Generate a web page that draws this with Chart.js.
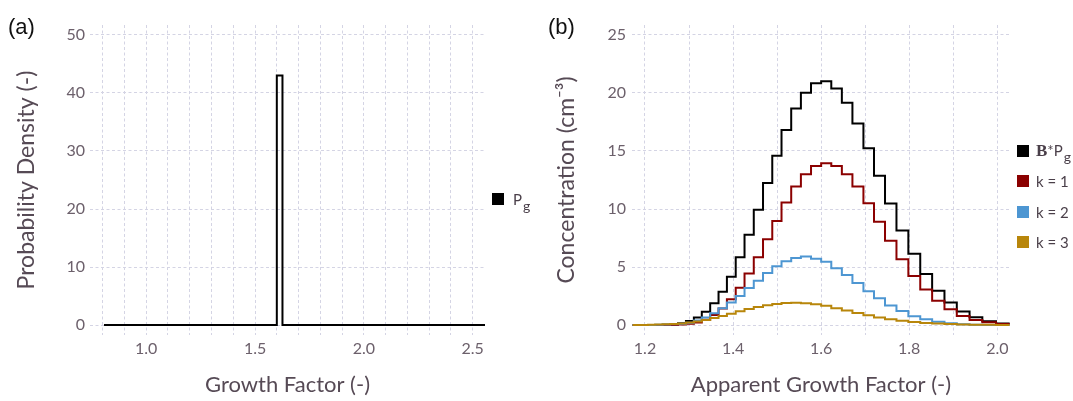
<!DOCTYPE html>
<html lang="en">
<head>
<meta charset="UTF-8">
<title>Growth factor distributions</title>
<script src="https://cdn.jsdelivr.net/npm/chart.js@4"></script>
<style>
  body { margin: 0; background: #fff; font-family: Lato, sans-serif; }
  .figure { position: relative; width: 1073px; height: 401px; overflow: hidden; }
  .panel { position: absolute; top: 0; height: 401px; }
  .tag { position: absolute; top: 15px; font-family: 'Liberation Sans', Arial, sans-serif; font-size: 22px; line-height: 24px; color: #111; }
  .legend { position: absolute; font-size: 15px; color: #4a3f49; }
  .legend .row { display: flex; align-items: center; height: 30.3px; white-space: nowrap; }
  .legend .swatch { width: 12px; height: 12px; flex: none; }
  .legend sub { font-size: 14px; position: relative; top: 6px; vertical-align: baseline; line-height: 0; margin-left: 1px; }
  .legend b { font-family: 'Liberation Serif', 'DejaVu Serif', serif; font-size: 17px; }
</style>
</head>
<body>
<div class="figure">
  <div class="panel" style="left:0;width:540px"><canvas id="chartA"></canvas></div>
  <div class="panel" style="left:540px;width:533px"><canvas id="chartB"></canvas></div>

  <div class="tag" style="left:8px">(a)</div>
  <div class="tag" style="left:548px">(b)</div>

  <div class="legend" style="left:492px;top:183.85px">
    <div class="row"><span class="swatch" style="background:#000;margin-right:9px"></span><span>P<sub>g</sub></span></div>
  </div>
  <div class="legend" style="left:1017px;top:135.85px">
    <div class="row"><span class="swatch" style="background:#000;margin-right:7px"></span><span><b>B</b>*P<sub>g</sub></span></div>
    <div class="row"><span class="swatch" style="background:#8b0000;margin-right:7px"></span><span>k = 1</span></div>
    <div class="row"><span class="swatch" style="background:#4d96d2;margin-right:7px"></span><span>k = 2</span></div>
    <div class="row"><span class="swatch" style="background:#b8860b;margin-right:7px"></span><span>k = 3</span></div>
  </div>
</div>

<script>
// (a) growth factor probability density: one narrow bin
const growthA = [0.806, 1.600, 1.626, 2.557];
const densityA = [0, 43, 0, 0];
const gridXA = [0.8, 0.9, 1.0, 1.1, 1.2, 1.3, 1.4, 1.5, 1.6, 1.7, 1.8, 1.9, 2.0, 2.1, 2.2, 2.3, 2.4, 2.5];
const labelXA = [1.0, 1.5, 2.0, 2.5];
const gridYA = [0, 10, 20, 30, 40, 50];

// (b) concentration per apparent growth factor bin (left bin edges)
const growthB = [1.172, 1.190, 1.207, 1.223, 1.240, 1.257, 1.275, 1.293, 1.311, 1.329,
                 1.348, 1.367, 1.386, 1.406, 1.426, 1.447, 1.468, 1.489, 1.510, 1.532,
                 1.554, 1.577, 1.600, 1.623, 1.647, 1.671, 1.696, 1.720, 1.745, 1.771,
                 1.798, 1.825, 1.852, 1.880, 1.908, 1.937, 1.966, 1.997, 2.028];
const totalB = [0, 0, 0, 0, 0.02, 0.06, 0.16, 0.35, 0.65, 1.15,
                1.87, 2.87, 4.17, 5.84, 7.78, 9.93, 12.25, 14.6, 16.8, 18.66,
                20.03, 20.84, 21.02, 20.38, 19.15, 17.38, 15.23, 12.87, 10.47, 8.15,
                6.14, 4.4, 2.96, 1.93, 1.16, 0.66, 0.33, 0.14, 0.14];
const chargeOne = [0, 0, 0, 0, 0, 0.01, 0.04, 0.1, 0.22, 0.45,
                   0.86, 1.43, 2.21, 3.22, 4.45, 5.84, 7.39, 8.97, 10.55, 11.93,
                   12.99, 13.7, 13.95, 13.7, 12.99, 11.93, 10.49, 8.91, 7.27, 5.66,
                   4.22, 3.07, 2.1, 1.35, 0.78, 0.43, 0.23, 0.09, 0.09];
const chargeTwo = [0, 0, 0.01, 0.02, 0.04, 0.06, 0.1, 0.2, 0.38, 0.64,
                   1.01, 1.45, 1.94, 2.51, 3.18, 3.81, 4.48, 5.06, 5.49, 5.78,
                   5.9, 5.72, 5.45, 4.9, 4.3, 3.63, 2.92, 2.3, 1.68, 1.2,
                   0.76, 0.49, 0.29, 0.15, 0.07, 0.03, 0.01, 0, 0];
const chargeThree = [0, 0.01, 0.02, 0.04, 0.06, 0.09, 0.13, 0.21, 0.31, 0.44,
                     0.6, 0.78, 0.98, 1.18, 1.38, 1.56, 1.7, 1.81, 1.9, 1.92,
                     1.88, 1.79, 1.65, 1.45, 1.24, 1.03, 0.83, 0.65, 0.49, 0.36,
                     0.26, 0.18, 0.12, 0.08, 0.05, 0.03, 0.02, 0.01, 0.01];
const gridXB = [1.2, 1.3, 1.4, 1.5, 1.6, 1.7, 1.8, 1.9, 2.0];
const labelXB = [1.2, 1.4, 1.6, 1.8, 2.0];
const gridYB = [0, 5, 10, 15, 20, 25];

const tickColor = '#6c606b';
const titleColor = '#564a55';
const gridColor = '#d4d4e4';

function toPoints(xs, ys) {
    return xs.map((x, i) => ({ x: x, y: ys[i] }));
}

function stepLine(xs, ys, color) {
    return {
        data: toPoints(xs, ys),
        borderColor: color,
        borderWidth: 2,
        stepped: true,
        pointRadius: 0,
        fill: false
    };
}

function makeOptions(p) {
    return {
        responsive: true,
        maintainAspectRatio: false,
        animation: false,
        layout: { padding: { left: 0, top: 25, right: p.padRight, bottom: 0 } },
        plugins: { legend: { display: false }, tooltip: { enabled: false } },
        scales: {
            x: {
                type: 'linear',
                min: p.xMin,
                max: p.xMax,
                afterBuildTicks: axis => { axis.ticks = p.gridX.map(v => ({ value: v })); },
                afterFit: axis => { axis.height = 66; },
                grid: { color: gridColor, lineWidth: 1, drawTicks: false },
                border: { display: false, dash: [3, 2.5] },
                ticks: {
                    autoSkip: false,
                    maxRotation: 0,
                    padding: 4,
                    color: tickColor,
                    font: { family: 'Lato', size: 16 },
                    callback: v => p.labelX.some(l => Math.abs(l - v) < 1e-6) ? v.toFixed(1) : ''
                },
                title: {
                    display: true,
                    text: p.xTitle,
                    color: titleColor,
                    font: { family: 'Lato', size: 22 },
                    padding: { top: 0, bottom: 3 }
                }
            },
            y: {
                type: 'linear',
                min: p.yMin,
                max: p.yMax,
                afterBuildTicks: axis => { axis.ticks = p.gridY.map(v => ({ value: v })); },
                afterFit: axis => { axis.width = p.yWidth; },
                grid: { color: gridColor, lineWidth: 1, drawTicks: false },
                border: { display: false, dash: [3, 2.5] },
                ticks: {
                    padding: p.yPad,
                    color: tickColor,
                    font: { family: 'Lato', size: 16 }
                },
                title: {
                    display: true,
                    text: p.yTitle,
                    color: titleColor,
                    font: { family: 'Lato', size: 23 },
                    padding: { top: 13, bottom: 0 }
                }
            }
        }
    };
}

new Chart(document.getElementById('chartA'), {
    type: 'line',
    data: { datasets: [stepLine(growthA, densityA, '#000')] },
    options: makeOptions({
        xMin: 0.7417, xMax: 2.5565, yMin: -1.724, yMax: 51.724,
        gridX: gridXA, labelX: labelXA, gridY: gridYA,
        padRight: 55, yWidth: 90, yPad: 5,
        xTitle: 'Growth Factor (-)', yTitle: 'Probability Density (-)'
    })
});

new Chart(document.getElementById('chartB'), {
    type: 'line',
    data: {
        datasets: [
            stepLine(growthB, chargeThree, '#b8860b'),
            stepLine(growthB, chargeTwo, '#4d96d2'),
            stepLine(growthB, chargeOne, '#8b0000'),
            stepLine(growthB, totalB, '#000')
        ]
    },
    options: makeOptions({
        xMin: 1.1705, xMax: 2.0288, yMin: -0.862, yMax: 25.862,
        gridX: gridXB, labelX: labelXB, gridY: gridYB,
        padRight: 63, yWidth: 92, yPad: 6,
        xTitle: 'Apparent Growth Factor (-)', yTitle: 'Concentration (cm\u207B\u00B3)'
    })
});
</script>
</body>
</html>
